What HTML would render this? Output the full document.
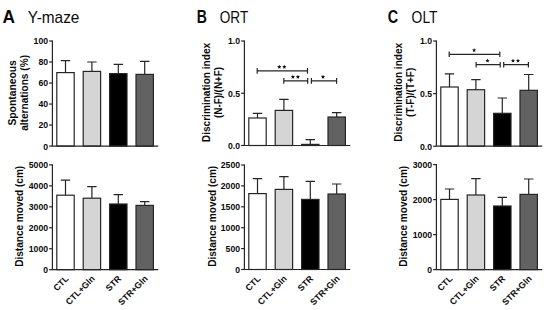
<!DOCTYPE html><html><head><meta charset="utf-8"><style>
html,body{margin:0;padding:0;background:#fff;width:550px;height:310px;overflow:hidden}
svg{display:block}
text{font-family:"Liberation Sans",sans-serif;fill:#0a0a0a;stroke:none}
.tk{font-size:8.7px;font-weight:bold;text-anchor:end}
.yl{font-size:10px;font-weight:bold;text-anchor:middle}
.xl{font-size:8.8px;font-weight:bold;text-anchor:end}
.pl{font-size:18px;font-weight:bold}
.ti{font-size:16px}
</style></head><body>
<svg width="550" height="310" viewBox="0 0 550 310">
<rect width="550" height="310" fill="#fff"/>
<text class="pl" transform="translate(2.6 23) scale(0.96 1)">A</text>
<text class="ti" transform="translate(27.8 23) scale(0.962 1)">Y-maze</text>
<text class="pl" transform="translate(196.8 23) scale(0.78 1)">B</text>
<text class="ti" transform="translate(219.8 23) scale(0.85 1)">ORT</text>
<text class="pl" transform="translate(387.8 23) scale(0.8 1)">C</text>
<text class="ti" transform="translate(411.6 23) scale(0.867 1)">OLT</text>
<g stroke="#262626" stroke-width="1.2" fill="none">
<path d="M65.5 72.6V60.6M60.8 60.6H70.2" />
<rect x="56.8" y="72.6" width="17.4" height="73.5" fill="#ffffff" />
<path d="M91.9 71.4V62M87.2 62H96.6" />
<rect x="83.2" y="71.4" width="17.4" height="74.7" fill="#d5d5d5" />
<path d="M118.3 73.6V64.4M113.6 64.4H123" />
<rect x="109.6" y="73.6" width="17.4" height="72.5" fill="#000000" />
<path d="M144.7 74.4V61.4M140 61.4H149.4" />
<rect x="136" y="74.4" width="17.4" height="71.7" fill="#626262" />
<path d="M65.5 195.2V180.2M60.8 180.2H70.2" />
<rect x="56.8" y="195.2" width="17.4" height="74.5" fill="#ffffff" />
<path d="M91.9 198.2V186.7M87.2 186.7H96.6" />
<rect x="83.2" y="198.2" width="17.4" height="71.5" fill="#d5d5d5" />
<path d="M118.3 204V194.7M113.6 194.7H123" />
<rect x="109.6" y="204" width="17.4" height="65.7" fill="#000000" />
<path d="M144.7 205.4V201.6M140 201.6H149.4" />
<rect x="136" y="205.4" width="17.4" height="64.3" fill="#626262" />
<path d="M52.4 40.4V146.1H158.3" />
<path d="M49.1 146.1H52.4" />
<path d="M49.1 125.08H52.4" />
<path d="M49.1 104.06H52.4" />
<path d="M49.1 83.04H52.4" />
<path d="M49.1 62.02H52.4" />
<path d="M49.1 41H52.4" />
<text class="tk" x="48.1" y="149.5">0</text>
<text class="tk" x="48.1" y="128.48">20</text>
<text class="tk" x="48.1" y="107.46">40</text>
<text class="tk" x="48.1" y="86.44">60</text>
<text class="tk" x="48.1" y="65.42">80</text>
<text class="tk" x="48.1" y="44.4">100</text>
<path d="M52.4 164.3V269.7H158.3" />
<path d="M49.1 269.7H52.4" />
<path d="M49.1 248.74H52.4" />
<path d="M49.1 227.78H52.4" />
<path d="M49.1 206.82H52.4" />
<path d="M49.1 185.86H52.4" />
<path d="M49.1 164.9H52.4" />
<text class="tk" x="48.1" y="273.1">0</text>
<text class="tk" x="48.1" y="252.14">1000</text>
<text class="tk" x="48.1" y="231.18">2000</text>
<text class="tk" x="48.1" y="210.22">3000</text>
<text class="tk" x="48.1" y="189.26">4000</text>
<text class="tk" x="48.1" y="168.3">5000</text>
</g>
<text class="xl" transform="translate(69 279.3) rotate(-45)">CTL</text>
<text class="xl" transform="translate(95.4 279.3) rotate(-45)">CTL+Gln</text>
<text class="xl" transform="translate(121.8 279.3) rotate(-45)">STR</text>
<text class="xl" transform="translate(148.2 279.3) rotate(-45)">STR+Gln</text>
<g stroke="#262626" stroke-width="1.2" fill="none">
<path d="M257.5 118V113.4M252.8 113.4H262.2" />
<rect x="248.8" y="118" width="17.4" height="27.5" fill="#ffffff" />
<path d="M283.9 110.4V99.4M279.2 99.4H288.6" />
<rect x="275.2" y="110.4" width="17.4" height="35.1" fill="#d5d5d5" />
<path d="M310.3 144.4V139.6M305.6 139.6H315" />
<rect x="301.6" y="144.4" width="17.4" height="1.1" fill="#000000" />
<path d="M336.7 117V112.6M332 112.6H341.4" />
<rect x="328" y="117" width="17.4" height="28.5" fill="#626262" />
<path d="M257.5 193.6V178.6M252.8 178.6H262.2" />
<rect x="248.8" y="193.6" width="17.4" height="75.9" fill="#ffffff" />
<path d="M283.9 189.4V176.6M279.2 176.6H288.6" />
<rect x="275.2" y="189.4" width="17.4" height="80.1" fill="#d5d5d5" />
<path d="M310.3 199.4V181.4M305.6 181.4H315" />
<rect x="301.6" y="199.4" width="17.4" height="70.1" fill="#000000" />
<path d="M336.7 194V184M332 184H341.4" />
<rect x="328" y="194" width="17.4" height="75.5" fill="#626262" />
<path d="M257.2 68.1V73.7M307.5 68.1V73.7M257.2 70.9H307.5" />
<polygon points="279.3,64.7 279.89,66.09 281.39,66.22 280.25,67.21 280.59,68.68 279.3,67.9 278.01,68.68 278.35,67.21 277.21,66.22 278.71,66.09" fill="#111" stroke="none"/>
<polygon points="284.3,64.7 284.89,66.09 286.39,66.22 285.25,67.21 285.59,68.68 284.3,67.9 283.01,68.68 283.35,67.21 282.21,66.22 283.71,66.09" fill="#111" stroke="none"/>
<path d="M283.8 78.1V83.7M307.7 78.1V83.7M283.8 80.9H307.7" />
<polygon points="292.9,74.7 293.49,76.09 294.99,76.22 293.85,77.21 294.19,78.68 292.9,77.9 291.61,78.68 291.95,77.21 290.81,76.22 292.31,76.09" fill="#111" stroke="none"/>
<polygon points="297.9,74.7 298.49,76.09 299.99,76.22 298.85,77.21 299.19,78.68 297.9,77.9 296.61,78.68 296.95,77.21 295.81,76.22 297.31,76.09" fill="#111" stroke="none"/>
<path d="M311.4 78.1V83.7M336.6 78.1V83.7M311.4 80.9H336.6" />
<polygon points="323,74.7 323.59,76.09 325.09,76.22 323.95,77.21 324.29,78.68 323,77.9 321.71,78.68 322.05,77.21 320.91,76.22 322.41,76.09" fill="#111" stroke="none"/>
<path d="M244.4 40.4V145.5H350.3" />
<path d="M241.1 145.5H244.4" />
<path d="M241.1 93.25H244.4" />
<path d="M241.1 41H244.4" />
<text class="tk" x="240.1" y="148.9">0.0</text>
<text class="tk" x="240.1" y="96.65">0.5</text>
<text class="tk" x="240.1" y="44.4">1.0</text>
<path d="M244.4 164.4V269.5H350.3" />
<path d="M241.1 269.5H244.4" />
<path d="M241.1 248.6H244.4" />
<path d="M241.1 227.7H244.4" />
<path d="M241.1 206.8H244.4" />
<path d="M241.1 185.9H244.4" />
<path d="M241.1 165H244.4" />
<text class="tk" x="240.1" y="272.9">0</text>
<text class="tk" x="240.1" y="252">500</text>
<text class="tk" x="240.1" y="231.1">1000</text>
<text class="tk" x="240.1" y="210.2">1500</text>
<text class="tk" x="240.1" y="189.3">2000</text>
<text class="tk" x="240.1" y="168.4">2500</text>
</g>
<text class="xl" transform="translate(261 279.3) rotate(-45)">CTL</text>
<text class="xl" transform="translate(287.4 279.3) rotate(-45)">CTL+Gln</text>
<text class="xl" transform="translate(313.8 279.3) rotate(-45)">STR</text>
<text class="xl" transform="translate(340.2 279.3) rotate(-45)">STR+Gln</text>
<g stroke="#262626" stroke-width="1.2" fill="none">
<path d="M449.5 87V73.8M444.8 73.8H454.2" />
<rect x="440.8" y="87" width="17.4" height="59.2" fill="#ffffff" />
<path d="M475.9 89.7V79.6M471.2 79.6H480.6" />
<rect x="467.2" y="89.7" width="17.4" height="56.5" fill="#d5d5d5" />
<path d="M502.3 113.3V98M497.6 98H507" />
<rect x="493.6" y="113.3" width="17.4" height="32.9" fill="#000000" />
<path d="M528.7 90.3V74.5M524 74.5H533.4" />
<rect x="520" y="90.3" width="17.4" height="55.9" fill="#626262" />
<path d="M449.5 199.4V189M444.8 189H454.2" />
<rect x="440.8" y="199.4" width="17.4" height="70.2" fill="#ffffff" />
<path d="M475.9 195V178.6M471.2 178.6H480.6" />
<rect x="467.2" y="195" width="17.4" height="74.6" fill="#d5d5d5" />
<path d="M502.3 206V197.4M497.6 197.4H507" />
<rect x="493.6" y="206" width="17.4" height="63.6" fill="#000000" />
<path d="M528.7 194.4V179M524 179H533.4" />
<rect x="520" y="194.4" width="17.4" height="75.2" fill="#626262" />
<path d="M449.2 51.5V57.1M499.8 51.5V57.1M449.2 54.3H499.8" />
<polygon points="474.1,48.1 474.69,49.49 476.19,49.62 475.05,50.61 475.39,52.08 474.1,51.3 472.81,52.08 473.15,50.61 472.01,49.62 473.51,49.49" fill="#111" stroke="none"/>
<path d="M476.1 61.9V67.5M500.2 61.9V67.5M476.1 64.7H500.2" />
<polygon points="487.5,58.5 488.09,59.89 489.59,60.02 488.45,61.01 488.79,62.48 487.5,61.7 486.21,62.48 486.55,61.01 485.41,60.02 486.91,59.89" fill="#111" stroke="none"/>
<path d="M503.7 61.9V67.5M528.4 61.9V67.5M503.7 64.7H528.4" />
<polygon points="513,58.5 513.59,59.89 515.09,60.02 513.95,61.01 514.29,62.48 513,61.7 511.71,62.48 512.05,61.01 510.91,60.02 512.41,59.89" fill="#111" stroke="none"/>
<polygon points="518,58.5 518.59,59.89 520.09,60.02 518.95,61.01 519.29,62.48 518,61.7 516.71,62.48 517.05,61.01 515.91,60.02 517.41,59.89" fill="#111" stroke="none"/>
<path d="M436.4 40.4V146.2H542.3" />
<path d="M433.1 146.2H436.4" />
<path d="M433.1 93.6H436.4" />
<path d="M433.1 41H436.4" />
<text class="tk" x="432.1" y="149.6">0.0</text>
<text class="tk" x="432.1" y="97">0.5</text>
<text class="tk" x="432.1" y="44.4">1.0</text>
<path d="M436.4 164V269.6H542.3" />
<path d="M433.1 269.6H436.4" />
<path d="M433.1 234.6H436.4" />
<path d="M433.1 199.6H436.4" />
<path d="M433.1 164.6H436.4" />
<text class="tk" x="432.1" y="273">0</text>
<text class="tk" x="432.1" y="238">1000</text>
<text class="tk" x="432.1" y="203">2000</text>
<text class="tk" x="432.1" y="168">3000</text>
</g>
<text class="xl" transform="translate(453 279.3) rotate(-45)">CTL</text>
<text class="xl" transform="translate(479.4 279.3) rotate(-45)">CTL+Gln</text>
<text class="xl" transform="translate(505.8 279.3) rotate(-45)">STR</text>
<text class="xl" transform="translate(532.2 279.3) rotate(-45)">STR+Gln</text>
<text class="yl" transform="translate(15.6 92.9) rotate(-90) scale(1.035 1)">Spontaneous</text>
<text class="yl" transform="translate(27.8 92.9) rotate(-90) scale(1.012 1)">alternations (%)</text>
<text class="yl" transform="translate(22.9 216.3) rotate(-90) scale(1.006 1)">Distance moved (cm)</text>
<text class="yl" transform="translate(210 92.5) rotate(-90) scale(1.01 1)">Discrimination index</text>
<text class="yl" transform="translate(221.8 92.5) rotate(-90) scale(0.98 1)">(N-F)/(N+F)</text>
<text class="yl" transform="translate(215.5 216.3) rotate(-90) scale(1.006 1)">Distance moved (cm)</text>
<text class="yl" transform="translate(402.4 92.3) rotate(-90) scale(1.006 1)">Discrimination index</text>
<text class="yl" transform="translate(414 92.3) rotate(-90)">(T-F)/(T+F)</text>
<text class="yl" transform="translate(406.5 216.3) rotate(-90) scale(1.006 1)">Distance moved (cm)</text>
</svg></body></html>
